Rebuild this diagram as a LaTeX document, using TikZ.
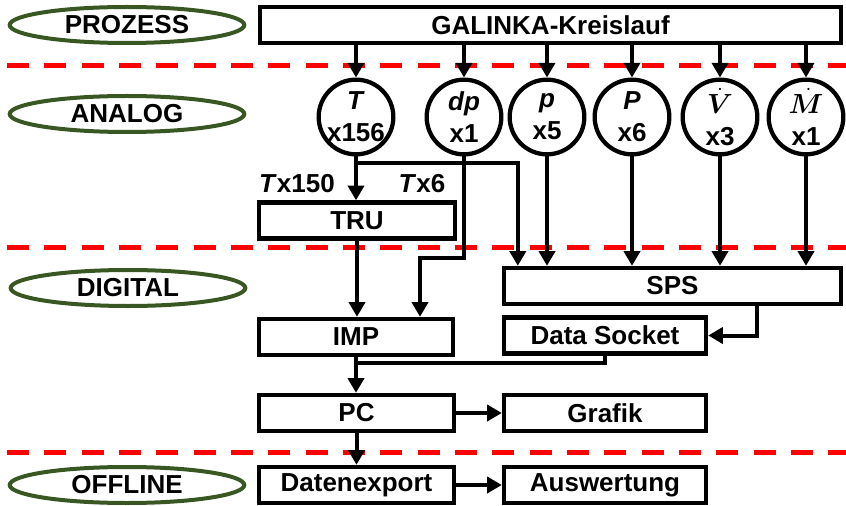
\documentclass[tikz,border=0pt]{standalone}
\usepackage{bm}
\usepackage{fontspec}
\setmainfont{Liberation Sans}
\usetikzlibrary{arrows.meta,shapes.geometric}
\definecolor{stagegreen}{RGB}{56,87,35}

\begin{document}
\begin{tikzpicture}[x=0.75pt,y=0.75pt,yscale=-1,xscale=1,
	every node/.style={font=\fontsize{19.5}{24}\selectfont\bfseries},
	stage/.style={draw=stagegreen,ellipse,line width=3pt,minimum width=176pt,minimum height=27pt,inner sep=0pt},
	box/.style={draw,line width=3.3pt,minimum height=27pt,inner sep=0pt},
	sensor/.style={draw,circle,line width=3.2pt,minimum size=56pt,inner sep=-2.5pt,align=center},
	conn/.style={line width=3pt,-{Triangle[length=11pt,width=12pt]}},
	level/.style={red,line width=3.75pt,dash pattern=on 16.5pt off 11.5pt}]
		\useasboundingbox (0,0) rectangle (846,506);
		% Ebenen
		\draw [level] (7,66) -- (846,66);
		\draw [level] (7,247) -- (846,247);
		\draw [level] (7,452) -- (846,452);
		\node [stage] (prozess) at (127,25) {PROZESS};
		\node [stage] (analog) at (127,114) {ANALOG};
		\node [stage] (digital) at (128,288) {DIGITAL};
		\node [stage] (offline) at (127,485) {OFFLINE};
		% Kreislauf und Sensoren
		\node [box,minimum width=435.75pt] (gal) at (550.5,25) {GALINKA-Kreislauf};
		\node [sensor] (t) at (356,117) {\textit{T}\\x156};
		\node [sensor] (dp) at (464,117) {\textit{dp}\\x1};
		\node [sensor] (p) at (547,117) {\textit{p}\\x5};
		\node [sensor] (pel) at (632,117) {\textit{P}\\x6};
		\node [sensor] (vdot) at (720,117) {$\bm{\dot{V}}$\\x3};
		\node [sensor] (mdot) at (806,117) {$\bm{\dot{M}}$\\x1};
		\foreach \s in {t,dp,p,pel,vdot,mdot}
			\draw [conn] (\s |- gal.south) -- (\s.north);
		% Erfassung
		\node [box,minimum width=147pt] (tru) at (357,220.5) {TRU};
		\node [box,minimum width=252.75pt] (sps) at (672.5,286) {SPS};
		\node [box,minimum width=145.5pt] (imp) at (356,337) {IMP};
		\node [box,minimum width=151.5pt] (ds) at (605,335.5) {Data Socket};
		\node (lbl150) at (297,184) {\textit{T}x150};
		\node (lbl6) at (422,184) {\textit{T}x6};
		\coordinate (tsplit) at (356,163);
		\coordinate (dpknee) at (420,258);
		\coordinate (merge) at (356,363);
		\draw [conn] (t.south) -- (t.south |- tru.north);
		\draw [conn] (t.south) -- (tsplit) -| ([xshift=12pt]sps.north west);
		\draw [conn] (dp.south) |- (dpknee) -- (dpknee |- imp.north);
		\foreach \s in {p,pel,vdot,mdot}
			\draw [conn] (\s.south) -- (\s.south |- sps.north);
		\draw [conn] (tru.south) -- (tru.south |- imp.north);
		\draw [conn] ([xshift=63pt]sps.south) |- (ds.east);
		% Auswertung
		\node [box,minimum width=146.25pt] (pc) at (356.5,413) {PC};
		\node [box,minimum width=151.5pt] (graf) at (605,413) {Grafik};
		\node [box,minimum width=146.25pt] (dex) at (356.5,485) {Datenexport};
		\node [box,minimum width=151.5pt] (ausw) at (605,485) {Auswertung};
		\draw [line width=3pt] (ds.south) |- (merge);
		\draw [conn] (imp.south) -- (imp.south |- pc.north);
		\draw [conn] (pc.east) -- (graf.west);
		\draw [conn] (pc.south) -- (pc.south |- dex.north);
		\draw [conn] (dex.east) -- (ausw.west);
\end{tikzpicture}
\end{document}
